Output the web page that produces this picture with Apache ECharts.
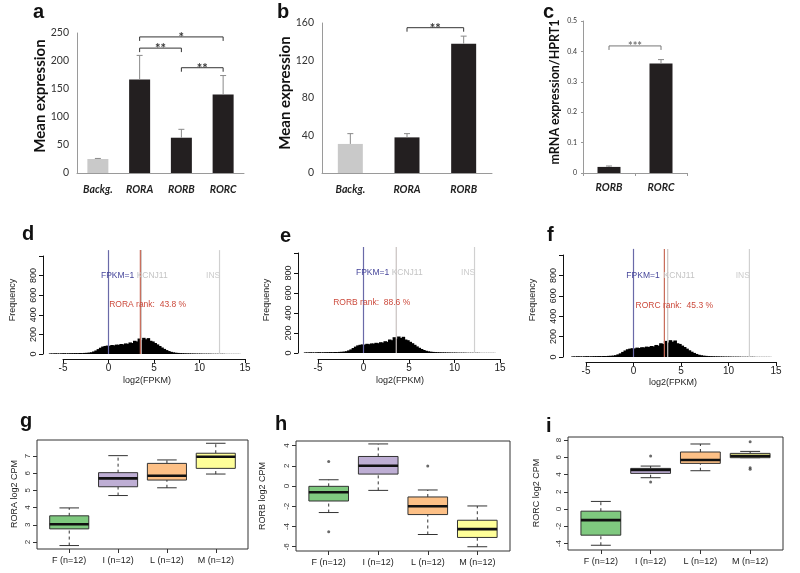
<!DOCTYPE html>
<html><head><meta charset="utf-8">
<script src="https://cdn.jsdelivr.net/npm/echarts@6/dist/echarts.min.js"></script>
<style>html,body{margin:0;padding:0;background:#fff}#c{width:800px;height:573px}</style>
</head><body><div id="c"></div>
<script>
// ---------------- data ----------------
const aCats = ['Backg.', 'RORA', 'RORB', 'RORC'];
const aMeans = [25, 167, 63, 140];
const aErrTop = [26, 210, 78, 174];
const aSig = [[1, 3, 243, '*'], [1, 2, 223, '**'], [2, 3, 188, '**']];

const bCats = ['Backg.', 'RORA', 'RORB'];
const bMeans = [31, 38, 138];
const bErrTop = [42, 42, 146];
const bSig = [[1, 2, 155, '**']];

const cCats = ['RORB', 'RORC'];
const cMeans = [0.02, 0.36];
const cErrTop = [0.023, 0.373];
const cSig = [[0, 1, 0.418, '***']];

const histStart = -6.5, histBin = 0.25;
const histCounts = [
  6, 5, 7, 6, 5, 7, 8, 6, 7, 8,
  8, 9, 8, 10, 9, 11, 12, 14,
  18, 26, 36, 50,
  64, 76, 82, 86,
  84, 92, 88, 96,
  94, 102, 98, 108,
  104, 118, 112, 135,
  128, 158, 142, 165,
  150, 162, 135, 128,
  112, 98, 82, 66,
  52, 40, 30, 22,
  17, 13, 11, 9,
  8, 7, 6, 6, 5, 5, 4, 4,
  4, 3, 3, 3, 3, 2, 2, 2,
  2, 2, 2, 1, 1, 1, 1, 1, 1, 1
];
const fpkmPos = 0, kcnj11Pos = 3.6, insPos = 12.2;
const rankPos = [3.5, null, 3.25];
const rankText = ['RORA rank:  43.8 %', 'RORB rank:  88.6 %', 'RORC rank:  45.3 %'];

const boxCats = ['F (n=12)', 'I (n=12)', 'L (n=12)', 'M (n=12)'];
// [lower whisker, Q1, median, Q3, upper whisker]
const gBox = [[1.79, 2.76, 3.03, 3.52, 3.98], [4.70, 5.21, 5.70, 6.03, 7.02], [5.15, 5.60, 5.85, 6.57, 6.77], [5.95, 6.28, 6.96, 7.16, 7.74]];
const gOut = [];
const hBox = [[-2.62, -1.48, -0.62, -0.03, 0.62], [-0.43, 1.18, 2.0, 2.92, 4.16], [-4.79, -2.82, -2.0, -1.08, -0.39], [-6.0, -5.08, -4.26, -3.38, -1.97]];
const hOut = [[1, 2.43], [1, -4.52], [3, 1.97]];
const iBox = [[-4.2, -3.03, -1.29, -0.25, 0.88], [3.63, 4.13, 4.52, 4.71, 4.98], [4.44, 5.29, 5.68, 6.61, 7.54], [5.95, 5.95, 6.14, 6.45, 6.68]];
const iOut = [[2, 6.14], [2, 3.12], [4, 7.8], [4, 4.79], [4, 4.6]];

// ---------------- build ----------------
const RF = 'Liberation Sans, Arial, sans-serif';
const XF = 'Lato, Open Sans, sans-serif';
const grids = [], xAxes = [], yAxes = [], series = [];

function barPanel(rect, cats, means, errTop, sig, ymax, yint, barW, lblSize, opts) {
  const idx = grids.length;
  grids.push(Object.assign({}, rect));
  xAxes.push({gridIndex: idx, type: 'category', data: cats,
    axisLine: {lineStyle: {color: '#9a9a9a', width: 1}},
    axisTick: {show: !!opts.xTick, length: 3, lineStyle: {color: '#9a9a9a'}},
    axisLabel: {fontFamily: XF, fontStyle: 'italic', fontWeight: 'bold', fontSize: 10.5, color: '#222', margin: opts.xMargin || 11}});
  yAxes.push({gridIndex: idx, type: 'value', min: 0, max: ymax, interval: yint,
    axisLine: {show: true, lineStyle: {color: '#9a9a9a', width: 1}},
    axisTick: {show: !!opts.yTick, length: 2, lineStyle: {color: '#9a9a9a'}},
    splitLine: {show: false},
    axisLabel: {fontFamily: XF, fontSize: lblSize, color: '#333', margin: opts.yMargin || 8}});
  series.push({type: 'bar', xAxisIndex: idx, yAxisIndex: idx, barWidth: barW, silent: true,
    data: means.map((v, i) => ({value: v, itemStyle: {color: (opts.lightFirst && i === 0) ? '#c9c9c9' : '#231f20'}}))});
  series.push({type: 'custom', xAxisIndex: idx, yAxisIndex: idx, silent: true, z: 4, clip: false,
    data: means.map((v, i) => [i, errTop[i], v]),
    renderItem: (p, api) => {
      const t = api.coord([api.value(0), api.value(1)]);
      const b = api.coord([api.value(0), api.value(2)]);
      const st = {stroke: '#8a8a8a', lineWidth: 1};
      return {type: 'group', children: [
        {type: 'line', shape: {x1: t[0], y1: t[1], x2: b[0], y2: b[1]}, style: st},
        {type: 'line', shape: {x1: t[0] - 3, y1: t[1], x2: t[0] + 3, y2: t[1]}, style: st}]};
    }});
  series.push({type: 'custom', xAxisIndex: idx, yAxisIndex: idx, silent: true, z: 4, clip: false,
    data: sig.map(s => [s[0], s[2]]),
    renderItem: (p, api) => {
      const s = sig[p.dataIndex];
      const p1 = api.coord([s[0], s[2]]), p2 = api.coord([s[1], s[2]]);
      const col = opts.sigColor || '#333';
      return {type: 'group', children: [
        {type: 'polyline', shape: {points: [[p1[0], p1[1] + 4], [p1[0], p1[1]], [p2[0], p2[1]], [p2[0], p2[1] + 4]]},
          style: {stroke: col, lineWidth: 1, fill: null}},
        {type: 'text', x: (p1[0] + p2[0]) / 2, y: p1[1] + 1,
          style: {text: s[3], fill: col, font: 'bold ' + (opts.starSize || 13) + 'px ' + XF,
            align: 'center', verticalAlign: 'middle', textAlign: 'center', textVerticalAlign: 'middle'}}]};
    }});
}

function histPanel(rect, xOff, yOff, k) {
  const idx = grids.length;
  grids.push(Object.assign({}, rect));
  xAxes.push({gridIndex: idx, type: 'value', min: -5, max: 15, interval: 5, offset: xOff,
    axisLine: {onZero: false, lineStyle: {color: '#111', width: 1}},
    axisTick: {length: 4, lineStyle: {color: '#111'}},
    splitLine: {show: false},
    axisLabel: {fontFamily: RF, fontSize: 10, color: '#222', margin: 4}});
  yAxes.push({gridIndex: idx, type: 'value', min: 0, max: 1000, interval: 200, offset: yOff,
    axisLine: {show: true, onZero: false, lineStyle: {color: '#111', width: 1}},
    axisTick: {show: true, length: 4, lineStyle: {color: '#111'}},
    splitLine: {show: false},
    axisLabel: {fontFamily: RF, fontSize: 9, color: '#222', rotate: 90, margin: 5,
      formatter: v => (v === 1000 ? '' : String(v))}});
  series.push({type: 'custom', xAxisIndex: idx, yAxisIndex: idx, silent: true, clip: false,
    data: histCounts.map((c, i) => [histStart + i * histBin, c]),
    renderItem: (p, api) => {
      const x0 = api.value(0), c = api.value(1);
      const a = api.coord([x0, 0]), b = api.coord([x0 + histBin, c]);
      return {type: 'rect', shape: {x: a[0] - 0.5, y: b[1], width: b[0] - a[0] + 1.2, height: a[1] - b[1]},
        style: {fill: '#000'}};
    }});
  const lines = [[kcnj11Pos, '#c9c2c0'], [insPos, '#d0d0d0'], [fpkmPos, '#6a6aa8']];
  if (rankPos[k] !== null) lines.push([rankPos[k], '#c86a58']);
  series.push({type: 'custom', xAxisIndex: idx, yAxisIndex: idx, silent: true, clip: false, z: 5,
    data: lines.map(l => [l[0], 0]),
    renderItem: (p, api) => {
      const a = api.coord([api.value(0), 0]), b = api.coord([api.value(0), 1060]);
      return {type: 'line', shape: {x1: a[0], y1: a[1], x2: b[0], y2: b[1]},
        style: {stroke: lines[p.dataIndex][1], lineWidth: 1.2}};
    }});
  const texts = [[1.0, 800, 'FPKM=1', '#45459a'], [4.8, 800, 'KCNJ11', '#c4c4c4'], [11.5, 800, 'INS', '#cccccc'],
    [k === 1 ? 0.9 : 4.3, 500, rankText[k], '#cc4a3c']];
  series.push({type: 'custom', xAxisIndex: idx, yAxisIndex: idx, silent: true, clip: false, z: 6,
    data: texts.map(t => [t[0], t[1]]),
    renderItem: (p, api) => {
      const t = texts[p.dataIndex];
      const c = api.coord([t[0], t[1]]);
      return {type: 'text', x: c[0], y: c[1],
        style: {text: t[2], fill: t[3], font: '8.5px ' + RF, align: 'center', verticalAlign: 'middle',
          textAlign: 'center', textVerticalAlign: 'middle'}};
    }});
}

const boxColors = ['#7FC97F', '#BEAED4', '#FDC086', '#FFFF99'];
function boxPanel(rect, ymin, ymax, ticks, boxes, outs) {
  const idx = grids.length;
  grids.push(Object.assign({show: true, borderColor: '#333', borderWidth: 1, backgroundColor: 'transparent'}, rect));
  xAxes.push({gridIndex: idx, type: 'value', min: 0.34, max: 4.66,
    axisLine: {show: false, onZero: false}, splitLine: {show: false},
    axisTick: {show: true, length: 4, customValues: [1, 2, 3, 4], lineStyle: {color: '#333'}},
    axisLabel: {customValues: [1, 2, 3, 4], formatter: v => boxCats[Math.round(v) - 1],
      fontFamily: RF, fontSize: 9, color: '#222', margin: 7}});
  yAxes.push({gridIndex: idx, type: 'value', min: ymin, max: ymax,
    axisLine: {show: false, onZero: false}, splitLine: {show: false},
    axisTick: {show: true, length: 4, customValues: ticks, lineStyle: {color: '#333'}},
    axisLabel: {customValues: ticks, rotate: 90, fontFamily: RF, fontSize: 8, color: '#333', margin: 5}});
  series.push({type: 'custom', xAxisIndex: idx, yAxisIndex: idx, silent: true, z: 3,
    data: boxes.map((b, i) => [i + 1].concat(b)),
    renderItem: (p, api) => {
      const x = api.value(0);
      const v = [1, 2, 3, 4, 5].map(d => api.value(d));
      const P = (xx, yy) => api.coord([xx, yy]);
      const lo = P(x, v[0]), q1 = P(x, v[1]), md = P(x, v[2]), q3 = P(x, v[3]), hi = P(x, v[4]);
      const bl = P(x - 0.4, v[1])[0], br = P(x + 0.4, v[1])[0];
      const cl = P(x - 0.2, v[1])[0], cr = P(x + 0.2, v[1])[0];
      const dash = {stroke: '#333', lineWidth: 1, lineDash: [3, 3]};
      const solid = {stroke: '#333', lineWidth: 1};
      return {type: 'group', children: [
        {type: 'line', shape: {x1: lo[0], y1: lo[1], x2: q1[0], y2: q1[1]}, style: dash},
        {type: 'line', shape: {x1: q3[0], y1: q3[1], x2: hi[0], y2: hi[1]}, style: dash},
        {type: 'line', shape: {x1: cl, y1: lo[1], x2: cr, y2: lo[1]}, style: solid},
        {type: 'line', shape: {x1: cl, y1: hi[1], x2: cr, y2: hi[1]}, style: solid},
        {type: 'rect', shape: {x: bl, y: q3[1], width: br - bl, height: q1[1] - q3[1]},
          style: {fill: boxColors[p.dataIndex], stroke: '#333', lineWidth: 1}},
        {type: 'line', shape: {x1: bl, y1: md[1], x2: br, y2: md[1]}, style: {stroke: '#111', lineWidth: 2.6}}]};
    }});
  if (outs.length) series.push({type: 'scatter', xAxisIndex: idx, yAxisIndex: idx, silent: true, z: 6,
    symbol: 'circle', symbolSize: 3, itemStyle: {color: '#444'},
    data: outs});
}

barPanel({left: 77, top: 33, width: 167, height: 140}, aCats, aMeans, aErrTop, aSig, 250, 50, 21, 10.5, {lightFirst: true});
barPanel({left: 322, top: 23, width: 170, height: 150}, bCats, bMeans, bErrTop, bSig, 160, 40, 25, 10.5, {lightFirst: true});
barPanel({left: 583, top: 21, width: 104, height: 152}, cCats, cMeans, cErrTop, cSig, 0.5, 0.1, 23, 7,
  {xTick: true, yTick: true, xMargin: 9, yMargin: 6, sigColor: '#777', starSize: 11});
histPanel({left: 63, top: 256, width: 182, height: 98}, 5, 20, 0);
histPanel({left: 318, top: 253, width: 182, height: 100}, 6, 20, 1);
histPanel({left: 586, top: 255, width: 190, height: 102}, 5, 23, 2);
boxPanel({left: 37, top: 440, width: 211, height: 109}, 1.59, 7.93, [2, 3, 4, 5, 6, 7], gBox, gOut);
boxPanel({left: 296, top: 441, width: 214, height: 110}, -6.42, 4.45, [-6, -4, -2, 0, 2, 4], hBox, hOut);
boxPanel({left: 568, top: 437, width: 215, height: 113}, -4.75, 8.35, [-4, -2, 0, 2, 4, 6, 8], iBox, iOut);

function txt(x, y, s, font, opts) {
  opts = opts || {};
  return {type: 'text', x: x, y: y, rotation: opts.rot || 0, silent: true,
    style: {text: s, font: font, fill: opts.fill || '#111',
      align: opts.align || 'center', verticalAlign: opts.va || 'middle',
      textAlign: opts.align || 'center', textVerticalAlign: opts.va || 'middle'}};
}
const LF = 'bold 20px ' + RF;
const R90 = Math.PI / 2;
const graphics = [
  txt(33, 22, 'a', LF, {align: 'left', va: 'bottom'}),
  txt(277, 22, 'b', LF, {align: 'left', va: 'bottom'}),
  txt(543, 22, 'c', LF, {align: 'left', va: 'bottom'}),
  txt(22, 244, 'd', LF, {align: 'left', va: 'bottom'}),
  txt(280, 246, 'e', LF, {align: 'left', va: 'bottom'}),
  txt(547, 245, 'f', LF, {align: 'left', va: 'bottom'}),
  txt(20, 431, 'g', LF, {align: 'left', va: 'bottom'}),
  txt(275, 434, 'h', LF, {align: 'left', va: 'bottom'}),
  txt(546, 436, 'i', LF, {align: 'left', va: 'bottom'}),
  txt(40, 96, 'Mean expression', 'bold 15px ' + XF, {rot: R90}),
  txt(285, 93, 'Mean expression', 'bold 15px ' + XF, {rot: R90}),
  txt(555, 92, 'mRNA expression/HPRT1', 'bold 12.5px ' + XF, {rot: R90}),
  txt(13, 300, 'Frequency', '9px ' + RF, {rot: R90, fill: '#222'}),
  txt(267, 300, 'Frequency', '9px ' + RF, {rot: R90, fill: '#222'}),
  txt(533, 300, 'Frequency', '9px ' + RF, {rot: R90, fill: '#222'}),
  txt(147, 381, 'log2(FPKM)', '9px ' + RF, {fill: '#222'}),
  txt(400, 381, 'log2(FPKM)', '9px ' + RF, {fill: '#222'}),
  txt(673, 383, 'log2(FPKM)', '9px ' + RF, {fill: '#222'}),
  txt(15, 494, 'RORA log2 CPM', '9px ' + RF, {rot: R90, fill: '#222'}),
  txt(263, 496, 'RORB log2 CPM', '9px ' + RF, {rot: R90, fill: '#222'}),
  txt(537, 493, 'RORC log2 CPM', '9px ' + RF, {rot: R90, fill: '#222'})
];

const chart = echarts.init(document.getElementById('c'), null, {renderer: 'canvas'});
chart.setOption({
  animation: false,
  backgroundColor: '#fff',
  grid: grids, xAxis: xAxes, yAxis: yAxes, series: series,
  graphic: {elements: graphics}
});
</script></body></html>
